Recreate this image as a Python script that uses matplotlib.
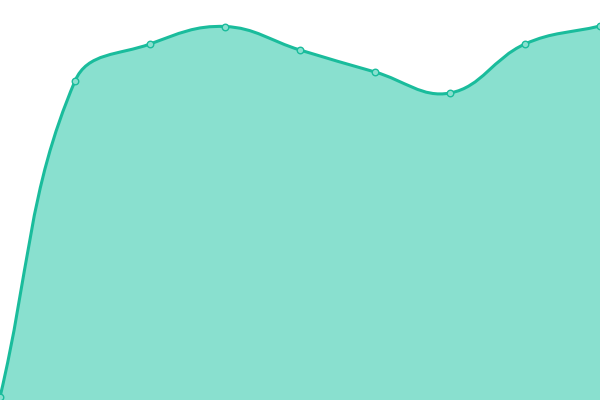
import numpy as np
import matplotlib
matplotlib.use('Agg')
import matplotlib.pyplot as plt
from matplotlib.path import Path
from matplotlib.patches import PathPatch

# Data (x positions are category slots, values on a 0-400 scale)
labels = ['A', 'B', 'C', 'D', 'E', 'F', 'G', 'H', 'I']
values = [3, 319, 356, 373.5, 350, 328, 307, 356, 374]

LINE_COLOR = '#1abc9c'
FILL_COLOR = '#89e0cf'
TENSION = 0.4


def spline_controls(xs, ys, t=TENSION):
    # Chart.js-style spline control points
    n = len(xs)
    cps = []
    for i in range(n):
        p0 = (xs[max(i - 1, 0)], ys[max(i - 1, 0)])
        p1 = (xs[i], ys[i])
        p2 = (xs[min(i + 1, n - 1)], ys[min(i + 1, n - 1)])
        d01 = np.hypot(p1[0] - p0[0], p1[1] - p0[1])
        d12 = np.hypot(p2[0] - p1[0], p2[1] - p1[1])
        s = d01 + d12
        fa = t * d01 / s if s else 0
        fb = t * d12 / s if s else 0
        prev = (p1[0] - fa * (p2[0] - p0[0]), p1[1] - fa * (p2[1] - p0[1]))
        nxt = (p1[0] + fb * (p2[0] - p0[0]), p1[1] + fb * (p2[1] - p0[1]))
        cps.append((prev, nxt))
    return cps


x = np.arange(len(values)) * 75.0
y = np.array(values, dtype=float)
cps = spline_controls(x, y)

verts = [(x[0], y[0])]
codes = [Path.MOVETO]
for i in range(len(x) - 1):
    verts += [cps[i][1], cps[i + 1][0], (x[i + 1], y[i + 1])]
    codes += [Path.CURVE4] * 3
line_path = Path(verts, codes)

fill_verts = verts + [(x[-1], 0), (x[0], 0), (x[0], y[0])]
fill_codes = codes + [Path.LINETO, Path.LINETO, Path.CLOSEPOLY]
fill_path = Path(fill_verts, fill_codes)

fig = plt.figure(figsize=(6, 4), dpi=100)
ax = fig.add_axes([0, 0, 1, 1])
ax.add_patch(PathPatch(fill_path, facecolor=FILL_COLOR, edgecolor='none'))
ax.add_patch(PathPatch(line_path, facecolor='none', edgecolor=LINE_COLOR,
                       linewidth=2.2, capstyle='round', joinstyle='round'))
ax.scatter(x, y, s=22, color=FILL_COLOR, edgecolors=LINE_COLOR,
           linewidths=1, zorder=3, clip_on=False)

ax.set_xlim(0, 600)
ax.set_ylim(0, 400)
ax.axis('off')

fig.savefig('out.png', dpi=100)
